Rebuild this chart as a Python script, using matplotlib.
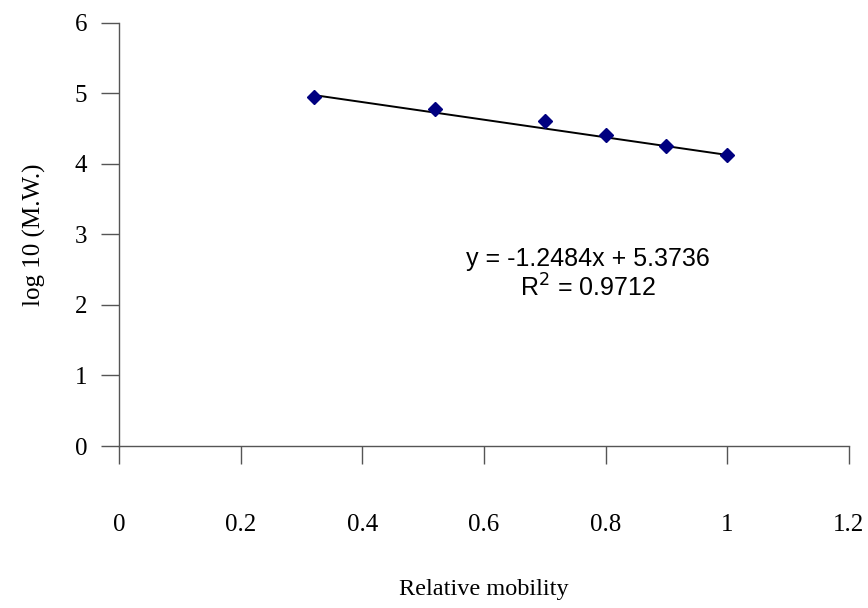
import matplotlib
matplotlib.use("Agg")
import matplotlib.pyplot as plt
import numpy as np

# Relative mobility vs. log10 of molecular weight for the marker proteins
rel_mobility = [0.32, 0.52, 0.70, 0.80, 0.90, 1.00]
log_mw = [4.95, 4.77, 4.60, 4.41, 4.25, 4.12]

# Linear trendline parameters
slope = -1.2484
intercept = 5.3736
r_squared = 0.9712

x_ticks = [0, 0.2, 0.4, 0.6, 0.8, 1, 1.2]
x_tick_labels = ["0", "0.2", "0.4", "0.6", "0.8", "1", "1.2"]
y_ticks = [0, 1, 2, 3, 4, 5, 6]

serif = "Liberation Serif"
sans = "Liberation Sans"

fig = plt.figure(figsize=(8.68, 6.08), dpi=100)
ax = fig.add_axes([0.1374, 0.2664, 0.8406, 0.6963])

# Trendline over the data range
xl = np.array([min(rel_mobility), max(rel_mobility)])
ax.plot(xl, slope * xl + intercept, color="black", lw=1.4, zorder=2)

ax.plot(rel_mobility, log_mw, linestyle="none", marker="D", markersize=7,
        color="#000080", markeredgecolor="#000080", zorder=3)

ax.set_xlim(0, 1.2)
ax.set_ylim(0, 6)
ax.set_xticks(x_ticks)
ax.set_xticklabels(x_tick_labels)
ax.set_yticks(y_ticks)

for s in ["top", "right"]:
    ax.spines[s].set_visible(False)
for s in ["left", "bottom"]:
    ax.spines[s].set_color("#555555")
    ax.spines[s].set_linewidth(1.0)

ax.tick_params(axis="x", direction="out", length=13, width=1.0, color="#555555",
               pad=36, labelsize=18)
ax.tick_params(axis="y", direction="out", length=13, width=1.0, color="#555555",
               pad=10, labelsize=18)
for lbl in ax.get_xticklabels() + ax.get_yticklabels():
    lbl.set_fontfamily(serif)

ax.set_xlabel("Relative mobility", fontfamily=serif, fontsize=17.5, labelpad=31)
ax.set_ylabel("log 10 (M.W.)", fontfamily=serif, fontsize=18, labelpad=21)

ax.text(0.771, 2.43, f"y = {slope}x + {intercept}\nR$^2$ = {r_squared}",
        ha="center", va="center", fontfamily=sans, fontsize=18,
        linespacing=1.15)

fig.savefig("out.png", dpi=100)
